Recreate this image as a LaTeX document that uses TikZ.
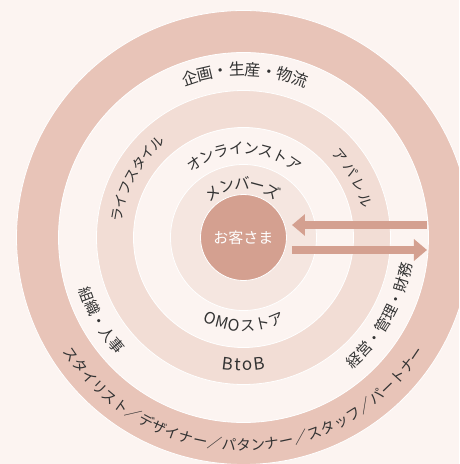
\documentclass[tikz,border=0pt]{standalone}
\usepackage{fontspec}
\setmainfont{Noto Sans CJK JP}
\newfontfamily\jp{Noto Sans CJK JP}
\usetikzlibrary{decorations.text,arrows.meta}
\definecolor{bgc}{HTML}{FCF4F1}
\definecolor{outerc}{HTML}{E8C4B8}
\definecolor{midc}{HTML}{F2DDD5}
\definecolor{innerc}{HTML}{F5E6E0}
\definecolor{corec}{HTML}{D4A090}
\definecolor{txtc}{HTML}{333333}
\newcommand\fs[1]{\jp\fontsize{#1}{#1}\selectfont\color{txtc}}
% clockwise arc text: angle, radius, raise, text
\newcommand\cwtext[4]{%
  \path[decorate, decoration={text along path, text align=center, raise=#3, text={#4}}]
    ({#1+85}:#2) arc[start angle={#1+85}, end angle={#1-85}, radius=#2];}
% counter-clockwise arc text
\newcommand\ccwtext[4]{%
  \path[decorate, decoration={text along path, text align=center, raise=#3, text={#4}}]
    ({#1-85}:#2) arc[start angle={#1-85}, end angle={#1+85}, radius=#2];}
\tikzset{
  ring/.style={circle, inner sep=0pt, draw=white, line width=0.8pt, minimum size=#1},
  flow/.style={draw=corec, line width=8pt, -{Triangle[width=21pt,length=13pt]}},
}
\begin{document}
\begin{tikzpicture}[x=1pt,y=1pt]
\useasboundingbox (-243.5,-226.5) rectangle (215.5,237.5);
\fill[bgc] (-243.5,-226.5) rectangle (215.5,237.5);
\begin{scope}
\clip (-243.5,-226.5) rectangle (215.5,237.5);
\node[ring=454pt, fill=outerc] (r1) at (0,0) {};
\node[ring=370pt, fill=bgc] (r2) at (0,0) {};
\node[ring=294pt, fill=midc] (r3) at (0,0) {};
\node[ring=220pt, fill=bgc] (r4) at (0,0) {};
\node[ring=146pt, fill=innerc] (r5) at (0,0) {};
\node[ring=86pt, fill=corec, text=white, font=\jp\fontsize{15}{15}\selectfont] (core) at (0,0) {お客さま};
\end{scope}
% arrows
\coordinate (inS) at (183.5,12.5);
\coordinate (inE) at (48.5,12.5);
\coordinate (outS) at (48.5,-12.5);
\coordinate (outE) at (183.5,-12.5);
\draw[flow] (inS) -- (inE);
\draw[flow] (outS) -- (outE);
% texts
\cwtext{89.5}{168}{-5.9pt}{|\fs{16}|企画・生産・物流}
\cwtext{151}{128}{-5.2pt}{|\fs{14}|ライフスタイル}
\cwtext{28.5}{127}{-5.2pt}{|\fs{14}|{ア\kern3.5pt}{パ\kern3.5pt}{レ\kern3.5pt}ル}
\cwtext{89.7}{89}{-5.5pt}{|\fs{15}|オンラインストア}
\cwtext{91.5}{54}{-5.7pt}{|\fs{15.5}|メンバーズ}
\ccwtext{270.5}{88}{-5.7pt}{|\fs{16}|OMO|\fs{15}|ストア}
\ccwtext{270}{127}{-6.3pt}{|\fs{17}|{B\kern1pt}{t\kern1pt}{o\kern1pt}B}
\ccwtext{210.2}{167}{-5.5pt}{|\fs{15}|組織・人事}
\ccwtext{330.3}{165}{-5.5pt}{|\fs{15}|経営・管理・財務}
\ccwtext{270}{208}{-5.4pt}{|\fs{14.5}|スタイリスト／デザイナー／パタンナー／スタッフ／パートナー}
\end{tikzpicture}
\end{document}
